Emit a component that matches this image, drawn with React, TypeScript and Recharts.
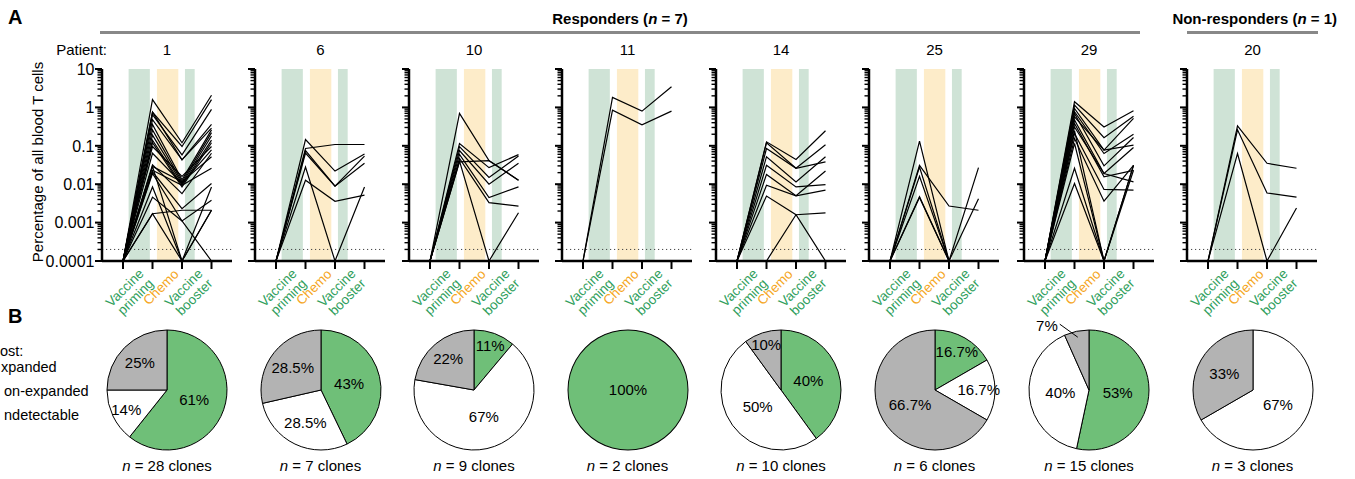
import React from 'react';
import { LineChart, Line, XAxis, YAxis, ReferenceArea, ReferenceLine, PieChart, Pie, Cell } from 'recharts';

const FONT = "'Liberation Sans', Arial, Helvetica, sans-serif";
const GREEN_TEXT = '#2e9e5b';
const ORANGE_TEXT = '#f5a623';
const BAND_GREEN = '#cfe3d6';
const BAND_YELLOW = '#fdecc9';
const PIE_COLORS: Record<string, string> = { expanded: '#6fbf78', nonExpanded: '#ffffff', undetectable: '#b3b3b3' };

// ---------------- data ----------------
const patients = ['1', '6', '10', '11', '14', '25', '29', '20'];
const timepoints = [0, 1, 2, 3];
const xTickLabels = [[], ['Vaccine', 'priming'], ['Chemo'], ['Vaccine', 'booster']];
const yMajorTicks = [0.0001, 0.001, 0.01, 0.1, 1, 10];
const yTickLabels = ['0.0001', '0.001', '0.01', '0.1', '1', '10'];
const detectionLimit = 0.0002;

const clonesP1 = [
  [0.0001, 1.6, 0.12, 2.07],
  [0.0001, 0.75, 0.096, 1.6],
  [0.0001, 0.65, 0.058, 0.89],
  [0.0001, 0.48, 0.043, 0.36],
  [0.0001, 0.75, 0.043, 0.29],
  [0.0001, 0.36, 0.013, 0.26],
  [0.0001, 0.26, 0.0115, 0.22],
  [0.0001, 0.19, 0.0104, 0.18],
  [0.0001, 0.14, 0.0094, 0.14],
  [0.0001, 0.12, 0.0085, 0.12],
  [0.0001, 0.096, 0.016, 0.096],
  [0.0001, 0.064, 0.0104, 0.078],
  [0.0001, 0.032, 0.0057, 0.064],
  [0.0001, 0.029, 0.0115, 0.052],
  [0.0001, 0.023, 0.0094, 0.026],
  [0.0001, 0.021, 0.0023, 0.0104],
  [0.0001, 0.019, 0.0011, 0.0038],
  [0.0001, 0.029, 0.0001, 0.0085],
  [0.0001, 0.0085, 0.0001, 0.0021],
  [0.0001, 0.0046, 0.0011, 0.0001],
  [0.0001, 0.0017, 0.0001, 0.0021],
  [0.0001, 0.0017, 0.0021, 0.0021],
];
const clonesP6 = [
  [0.0001, 0.085, 0.108, 0.108],
  [0.0001, 0.146, 0.022, 0.061],
  [0.0001, 0.075, 0.0089, 0.054],
  [0.0001, 0.065, 0.0089, 0.035],
  [0.0001, 0.028, 0.0001, 0.0085],
  [0.0001, 0.0127, 0.0036, 0.0052],
];
const clonesP10 = [
  [0.0001, 0.7, 0.041, 0.0127],
  [0.0001, 0.115, 0.027, 0.059],
  [0.0001, 0.095, 0.015, 0.054],
  [0.0001, 0.075, 0.01, 0.035],
  [0.0001, 0.06, 0.0045, 0.0085],
  [0.0001, 0.047, 0.0033, 0.0027],
  [0.0001, 0.04, 0.0001, 0.0018],
  [0.0001, 0.038, 0.041, 0.0127],
];
const clonesP11 = [
  [0.0001, 1.82, 0.8, 3.46],
  [0.0001, 0.85, 0.35, 0.8],
];
const clonesP14 = [
  [0.0001, 0.127, 0.044, 0.246],
  [0.0001, 0.12, 0.026, 0.106],
  [0.0001, 0.085, 0.026, 0.038],
  [0.0001, 0.052, 0.0115, 0.052],
  [0.0001, 0.031, 0.0085, 0.0098],
  [0.0001, 0.018, 0.005, 0.022],
  [0.0001, 0.0094, 0.005, 0.007],
  [0.0001, 0.0049, 0.0016, 0.0001],
  [0.0001, 0.0001, 0.0016, 0.0018],
];
const clonesP25 = [
  [0.0001, 0.132, 0.0001, 0.0042],
  [0.0001, 0.031, 0.0027, 0.0021],
  [0.0001, 0.028, 0.0001, 0.027],
  [0.0001, 0.016, 0.0001, 0.0001],
  [0.0001, 0.0047, 0.0001, 0.0001],
  [0.0001, 0.0045, 0.0001, 0.0001],
];
const clonesP29 = [
  [0.0001, 1.41, 0.31, 0.82],
  [0.0001, 1.15, 0.162, 0.59],
  [0.0001, 0.94, 0.077, 0.52],
  [0.0001, 0.77, 0.063, 0.2],
  [0.0001, 0.7, 0.03, 0.165],
  [0.0001, 0.57, 0.077, 0.104],
  [0.0001, 0.47, 0.019, 0.09],
  [0.0001, 0.38, 0.0155, 0.023],
  [0.0001, 0.31, 0.019, 0.0115],
  [0.0001, 0.21, 0.0073, 0.007],
  [0.0001, 0.155, 0.0036, 0.031],
  [0.0001, 0.115, 0.0001, 0.031],
  [0.0001, 0.026, 0.0001, 0.023],
  [0.0001, 0.0104, 0.0001, 0.031],
  [0.0001, 0.25, 0.0001, 0.0001],
];
const clonesP20 = [
  [0.0001, 0.33, 0.035, 0.026],
  [0.0001, 0.26, 0.0059, 0.0046],
  [0.0001, 0.063, 0.0001, 0.0024],
];
const patientClones = [clonesP1, clonesP6, clonesP10, clonesP11, clonesP14, clonesP25, clonesP29, clonesP20];

const cloneCounts = [28, 7, 9, 2, 10, 6, 15, 3];
const expandedCounts = [17, 3, 1, 2, 4, 1, 8, 0];
const nonExpandedCounts = [4, 2, 6, 0, 5, 1, 6, 2];
const undetectableCounts = [7, 2, 2, 0, 1, 4, 1, 1];
const pieLabels = [
  ['61%', '14%', '25%'],
  ['43%', '28.5%', '28.5%'],
  ['11%', '67%', '22%'],
  ['100%', '', ''],
  ['40%', '50%', '10%'],
  ['16.7%', '16.7%', '66.7%'],
  ['53%', '40%', '7%'],
  ['', '67%', '33%'],
];

// treatment periods on the time axis
const bands = [
  { x1: 0.19, x2: 0.91, fill: BAND_GREEN },
  { x1: 1.15, x2: 1.875, fill: BAND_YELLOW },
  { x1: 2.1, x2: 2.43, fill: BAND_GREEN },
];

// ---------------- layout ----------------
const centers = [167, 320.5, 474, 627.5, 781, 934.5, 1089, 1252.5];
const PLOT_TOP = 69;
const PLOT_H = 192;
const PLOT_W = 130;
const MARGIN_TOP = 10;
const XAXIS_H = 75;
const X_DOMAIN: [number, number] = [-0.712, 3.695];
const PIE_CY = 390;
const PIE_R = 60;

const yTicks: number[] = [];
yMajorTicks.forEach((d, i) => {
  yTicks.push(d);
  if (i < yMajorTicks.length - 1) for (let m = 2; m <= 9; m++) yTicks.push(d * m);
});

function YTick(props: any) {
  const { x, y, payload, showLabel } = props;
  const idx = yMajorTicks.indexOf(payload.value);
  const major = idx >= 0;
  return (
    <g>
      <line x1={x - (major ? 7 : 4.5)} x2={x} y1={y} y2={y} stroke="#000" strokeWidth={major ? 2 : 1.4} />
      {major && showLabel && (
        <text x={x - 7.5} y={y} dy="0.36em" textAnchor="end" fontSize={16} fontFamily={FONT} fill="#000">
          {yTickLabels[idx]}
        </text>
      )}
    </g>
  );
}

function XTick(props: any) {
  const { x, y, payload } = props;
  const v = payload.value as number;
  const lines: string[] = xTickLabels[v] || [];
  const color = v === 2 ? ORANGE_TEXT : GREEN_TEXT;
  const off = v === 2 ? [-2.5, 14] : [-8, 13.5];
  const ax = x + off[0];
  const ay = y + off[1];
  return (
    <g>
      <line x1={x} x2={x} y1={y} y2={y + 8} stroke="#000" strokeWidth={2} />
      {lines.length > 0 && (
        <text transform={`rotate(-45 ${ax} ${ay})`} x={ax} y={ay} textAnchor="end" fontSize={13.5} fill={color} fontFamily={FONT}>
          {lines.map((l, i) => (
            <tspan key={i} x={ax} dy={i === 0 ? 0 : 14}>
              {l}
            </tspan>
          ))}
        </text>
      )}
    </g>
  );
}

function Panel({ idx }: { idx: number }) {
  const clones = patientClones[idx];
  const rows = timepoints.map((t, ti) => {
    const r: any = { t };
    clones.forEach((c, ci) => {
      r['c' + ci] = c[ti];
    });
    return r;
  });
  const yw = idx === 0 ? 62 : 14;
  const plotLeft = centers[idx] - 65.25;
  const width = yw + PLOT_W + 2;
  const height = MARGIN_TOP + PLOT_H + XAXIS_H;
  return (
    <div style={{ position: 'absolute', left: plotLeft - yw, top: PLOT_TOP - MARGIN_TOP }}>
      <LineChart width={width} height={height} data={rows} margin={{ top: MARGIN_TOP, right: 2, bottom: 0, left: 0 }}>
        <XAxis
          dataKey="t"
          type="number"
          domain={X_DOMAIN}
          ticks={timepoints}
          interval={0}
          allowDataOverflow
          height={XAXIS_H}
          tickSize={0}
          tickMargin={0}
          tickLine={false}
          axisLine={{ stroke: '#000', strokeWidth: 2.5 }}
          tick={(p: any) => <XTick {...p} />}
        />
        <YAxis
          type="number"
          scale="log"
          domain={[0.0001, 10]}
          allowDataOverflow
          ticks={yTicks}
          interval={0}
          width={yw}
          tickSize={0}
          tickMargin={0}
          tickLine={false}
          axisLine={{ stroke: '#000', strokeWidth: 2.5 }}
          tick={(p: any) => <YTick {...p} showLabel={idx === 0} />}
        />
        {bands.map((b, bi) => (
          <ReferenceArea key={bi} x1={b.x1} x2={b.x2} y1={0.0001} y2={10} fill={b.fill} fillOpacity={1} stroke="none" />
        ))}
        <ReferenceLine y={detectionLimit} stroke="#444" strokeDasharray="1.2 2.8" strokeWidth={1} />
        {clones.map((_, ci) => (
          <Line key={ci} dataKey={'c' + ci} type="linear" stroke="#000" strokeWidth={1.2} dot={false} isAnimationActive={false} />
        ))}
      </LineChart>
    </div>
  );
}

const RAD = Math.PI / 180;
function renderPieLabel(props: any) {
  const { cx, cy, midAngle, outerRadius, percent } = props;
  const txt = (props.payload && props.payload.pct) ?? props.pct;
  const common = { fontSize: 15, fontFamily: FONT, fill: '#000' };
  if (percent >= 0.999) {
    return (
      <text x={cx} y={cy} dy="0.35em" textAnchor="middle" {...common}>
        {txt}
      </text>
    );
  }
  const dx = Math.cos(-midAngle * RAD);
  const dy = Math.sin(-midAngle * RAD);
  if (percent < 0.08) {
    const sx = cx + outerRadius * 0.9 * dx;
    const sy = cy + outerRadius * 0.9 * dy;
    const ex = sx - 18;
    const ey = sy - 13;
    return (
      <g>
        <line x1={sx} y1={sy} x2={ex} y2={ey} stroke="#000" strokeWidth={1} />
        <text x={ex - 2} y={ey + 6.5} textAnchor="end" {...common}>
          {txt}
        </text>
      </g>
    );
  }
  const f = 0.48 + 0.32 * Math.max(0, Math.min(1, (0.4 - percent) / 0.3));
  const r = outerRadius * f;
  return (
    <text x={cx + r * dx} y={cy + r * dy} dy="0.35em" textAnchor="middle" {...common}>
      {txt}
    </text>
  );
}

function PieBlock({ idx }: { idx: number }) {
  const rows = [
    { key: 'expanded', value: expandedCounts[idx], pct: pieLabels[idx][0] },
    { key: 'nonExpanded', value: nonExpandedCounts[idx], pct: pieLabels[idx][1] },
    { key: 'undetectable', value: undetectableCounts[idx], pct: pieLabels[idx][2] },
  ].filter((r) => r.value > 0);
  const single = rows.length === 1;
  const S = 160;
  return (
    <div style={{ position: 'absolute', left: centers[idx] - S / 2, top: PIE_CY - S / 2 }}>
      <PieChart width={S} height={S} margin={{ top: 0, right: 0, bottom: 0, left: 0 }}>
        <Pie
          data={rows}
          dataKey="value"
          nameKey="key"
          cx={S / 2}
          cy={S / 2}
          outerRadius={PIE_R}
          startAngle={90}
          endAngle={-270}
          stroke={single ? 'none' : '#000'}
          strokeWidth={1}
          labelLine={false}
          label={renderPieLabel}
          isAnimationActive={false}
        >
          {rows.map((r) => (
            <Cell key={r.key} fill={PIE_COLORS[r.key]} />
          ))}
        </Pie>
        {single && (
          <Pie
            data={[{ value: 1 }]}
            dataKey="value"
            cx={S / 2}
            cy={S / 2}
            innerRadius={PIE_R - 0.5}
            outerRadius={PIE_R + 0.5}
            startAngle={90}
            endAngle={-270}
            fill="#000"
            stroke="none"
            isAnimationActive={false}
          />
        )}
      </PieChart>
    </div>
  );
}

export default function App() {
  return (
    <div style={{ position: 'absolute', left: 0, top: 0, width: 1355, height: 479, background: '#fff', overflow: 'hidden', fontFamily: FONT }}>
      <svg width={1355} height={479} style={{ position: 'absolute', left: 0, top: 0 }} fontFamily={FONT}>
        <text x={8} y={24} fontSize={20} fontWeight="bold">A</text>
        <text x={620} y={24} fontSize={15} fontWeight="bold" textAnchor="middle">
          Responders (<tspan fontStyle="italic">n</tspan> = 7)
        </text>
        <rect x={100} y={31} width={1040} height={3} fill="#888" />
        <text x={1337} y={24} fontSize={15} fontWeight="bold" textAnchor="end">
          Non-responders (<tspan fontStyle="italic">n</tspan> = 1)
        </text>
        <rect x={1187} y={31} width={131} height={3} fill="#888" />
        <text x={107} y={55} fontSize={15} textAnchor="end">Patient:</text>
        {patients.map((p, i) => (
          <text key={p} x={centers[i]} y={55} fontSize={15} textAnchor="middle">{p}</text>
        ))}
        <text transform="rotate(-90 43 162)" x={43} y={162} fontSize={15} textAnchor="middle">
          Percentage of all blood T cells
        </text>
        <text x={8} y={323} fontSize={20} fontWeight="bold">B</text>
        <text x={0} y={356} fontSize={14.5}>ost:</text>
        <text x={1} y={372} fontSize={14.5}>xpanded</text>
        <text x={4} y={396} fontSize={14.5}>on-expanded</text>
        <text x={4} y={420} fontSize={14.5}>ndetectable</text>
        {cloneCounts.map((n, i) => (
          <text key={i} x={centers[i]} y={471} fontSize={15} textAnchor="middle">
            <tspan fontStyle="italic">n</tspan> = {n} clones
          </text>
        ))}
      </svg>
      {patients.map((_, i) => (
        <Panel key={'l' + i} idx={i} />
      ))}
      {patients.map((_, i) => (
        <PieBlock key={'p' + i} idx={i} />
      ))}
    </div>
  );
}
